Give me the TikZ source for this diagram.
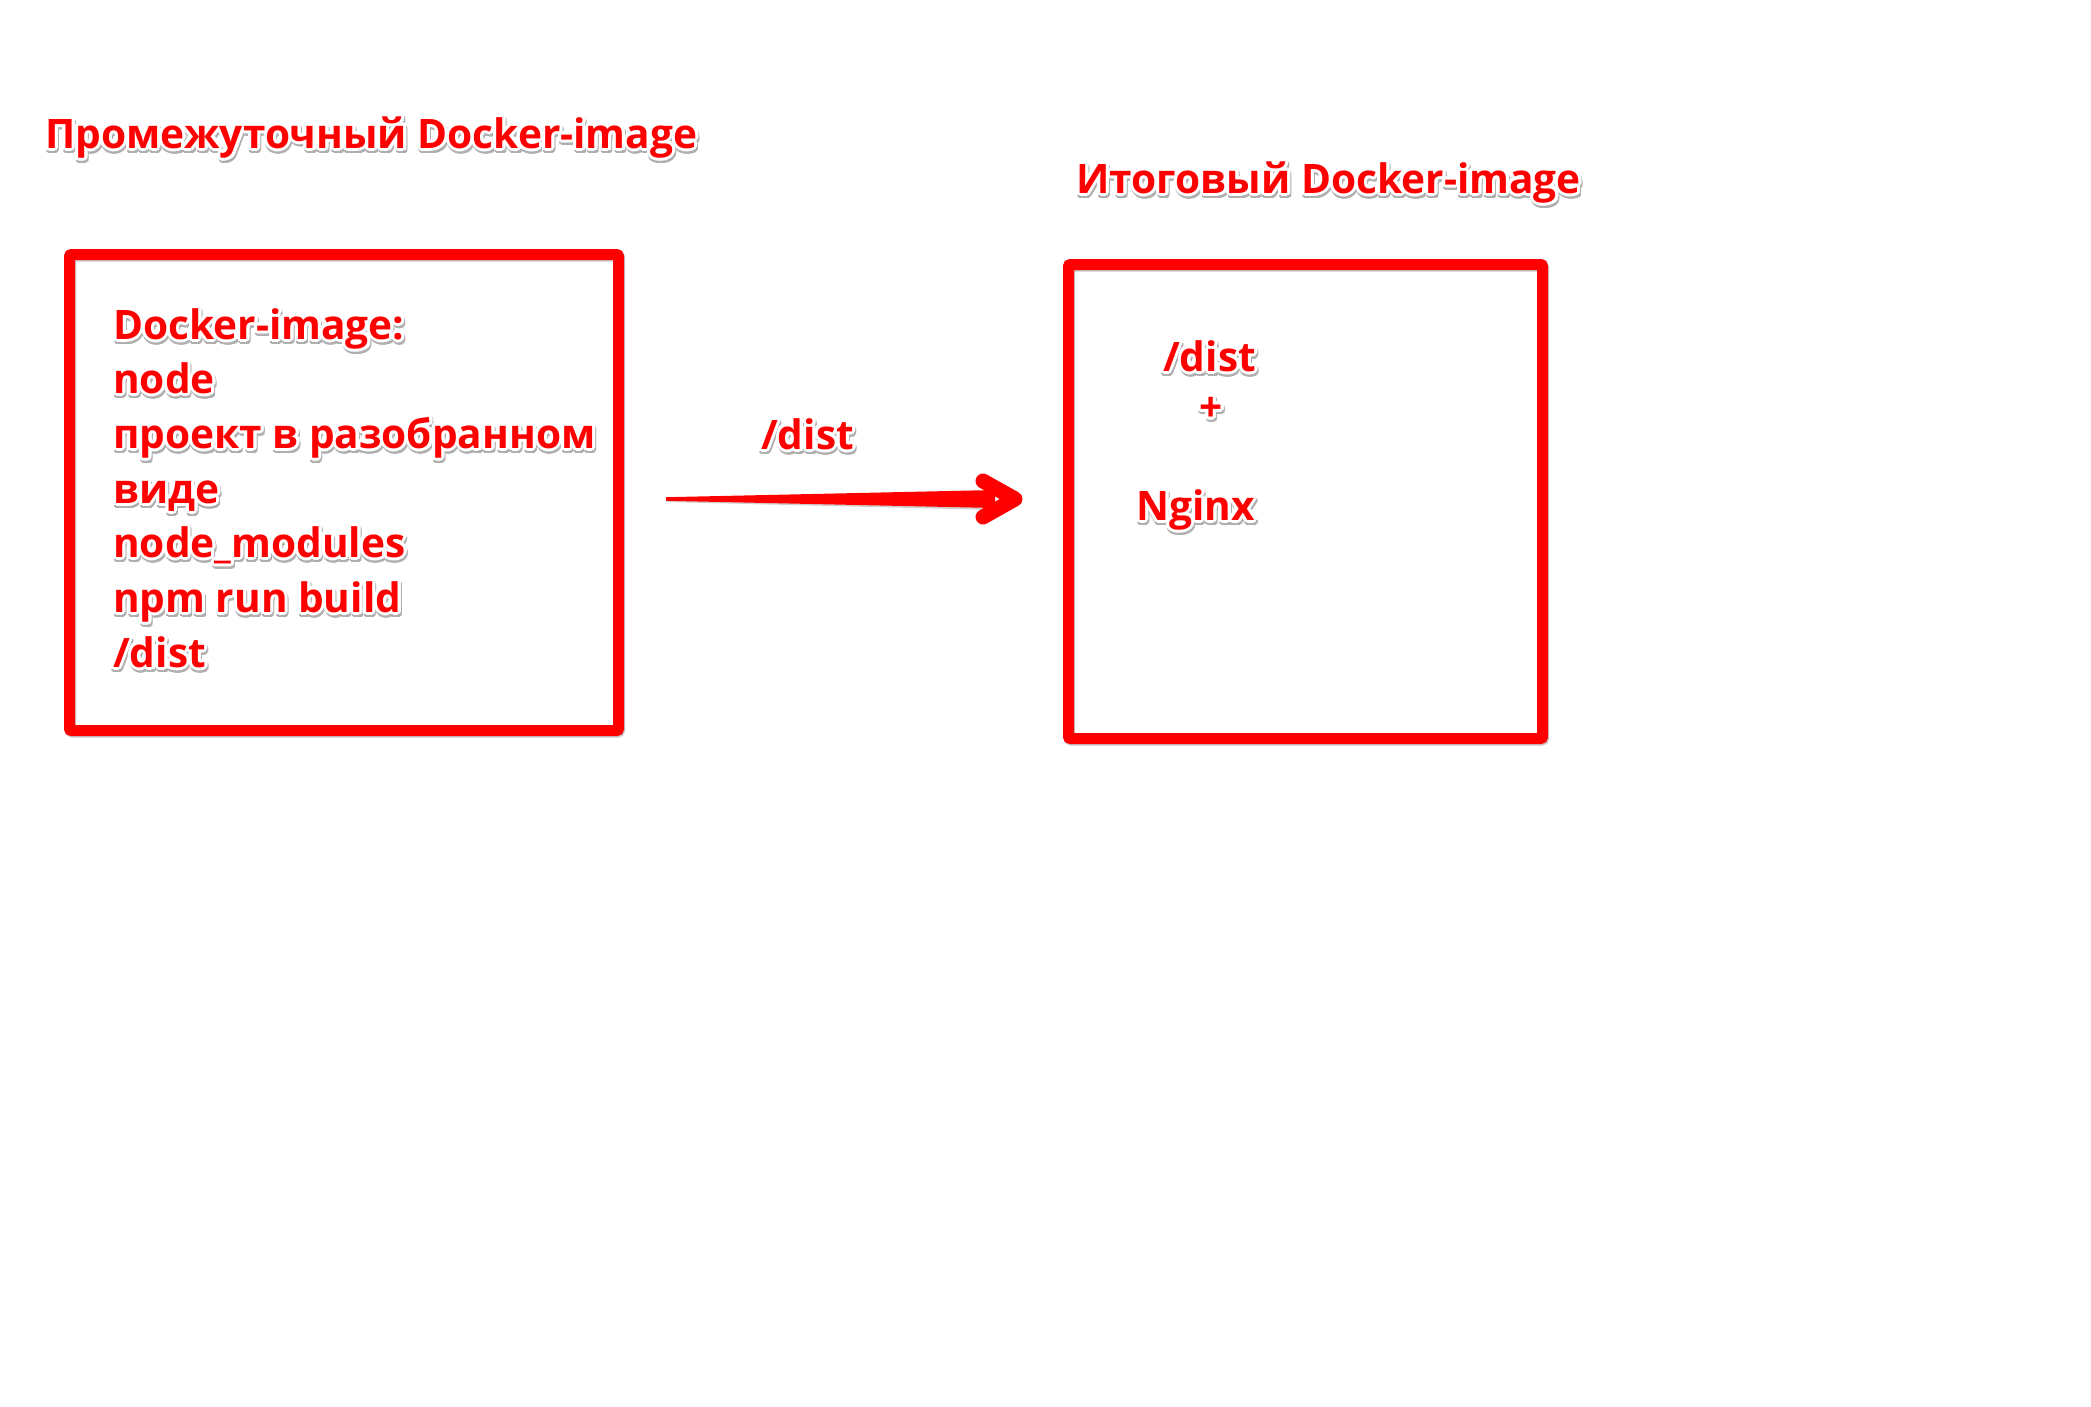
\documentclass[tikz,border=0pt]{standalone}
\usepackage{fontspec}
\setmainfont{Open Sans}
\usepackage{contour}
\contourlength{3pt}
\contournumber{24}
\definecolor{skred}{RGB}{255,0,0}
\definecolor{shd}{RGB}{175,175,175}
\newcommand\skt[1]{\makebox[0pt][l]{\kern1pt\raisebox{-2.5pt}{\color{shd}\contour{shd}{#1}}}{\color{skred}\contour{white}{#1}}}
\tikzset{
  sktext/.style={inner sep=0pt, anchor=base west, font=\fontsize{40.6}{50}\selectfont\bfseries},
  skbox/.style={draw=skred, line width=11pt, inner sep=0pt, rounded corners=2pt},
  skshadow/.style={draw=shd!70, line width=11pt, inner sep=0pt, rounded corners=2pt}
}
\begin{document}
\begin{tikzpicture}[x=1pt,y=-1pt]
\useasboundingbox (0,0) rectangle (2091,1406);
\fill[white] (0,0) rectangle (2091,1406);
% titles
\node[sktext] (t1) at (45,148) {\skt{Промежуточный Docker-image}};
\node[sktext] (t2) at (1076,193) {\skt{Итоговый Docker-image}};
% boxes
\node[skshadow, minimum width=549pt, minimum height=476pt] (b1s) at (345,494) {};
\node[skbox, minimum width=549pt, minimum height=476pt] (b1) at (344,492.5) {};
\node[skshadow, minimum width=474pt, minimum height=474pt] (b2s) at (1306.5,503) {};
\node[skbox, minimum width=474pt, minimum height=474pt] (b2) at (1305.5,501.5) {};
% left box text
\node[sktext] (l1) at (113,339) {\skt{Docker-image:}};
\node[sktext] (l2) at (113,393) {\skt{node}};
\node[sktext] (l3) at (113,448) {\skt{проект в разобранном}};
\node[sktext] (l4) at (113,503) {\skt{виде}};
\node[sktext] (l5) at (113,557) {\skt{node\_modules}};
\node[sktext] (l6) at (113,612) {\skt{npm run build}};
\node[sktext] (l7) at (113,667) {\skt{/dist}};
% right box text
\node[sktext] (r1) at (1163,371) {\skt{/dist}};
\node[sktext, anchor=center] (r2) at (1211,412) {\skt{+}};
\node[sktext] (r3) at (1136,520) {\skt{Nginx}};
% arrow
\node[sktext] (al) at (761,449) {\skt{/dist}};
\coordinate (atail) at (666,499);
\coordinate (ahead) at (1015,499);
\fill[shd!60] ([shift={(1,-1)}]atail) -- ([shift={(-20,-8)}]ahead) -- ([shift={(-20,11)}]ahead) -- ([shift={(1,3)}]atail) -- cycle;
\fill[skred] ([shift={(0,-1.8)}]atail) -- ([shift={(-20,-9)}]ahead) -- ([shift={(-20,9)}]ahead) -- ([shift={(0,1.8)}]atail) -- cycle;
\draw[skred, line width=15pt, line cap=round, line join=round] ([shift={(-32,-18)}]ahead) -- (ahead) -- ([shift={(-32,18)}]ahead);
\end{tikzpicture}
\end{document}
